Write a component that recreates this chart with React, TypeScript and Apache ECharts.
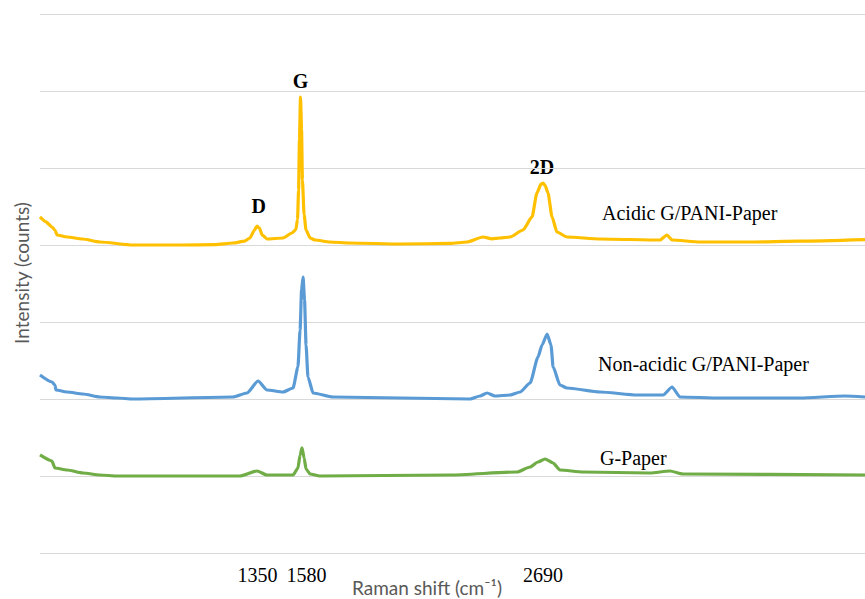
import React, { useEffect, useRef } from "react";
import * as echarts from "echarts";

// Raman shift (cm-1), intensity (offset counts)
const acidicData: number[][] = [
  [330, 4364], [358, 4300], [386, 4234], [400, 4195], [410, 4130], [457, 4104], [530, 4078], [611, 4039],
  [766, 4000], [1000, 4000], [1150, 4005], [1235, 4026], [1290, 4050], [1315, 4091], [1335, 4190],
  [1348, 4247], [1360, 4215], [1372, 4130], [1395, 4078], [1470, 4091], [1512, 4156], [1530, 4200],
  [1538, 4330], [1543, 4714], [1547, 5364], [1552, 5922], [1557, 5494], [1561, 4844], [1569, 4390],
  [1578, 4195], [1597, 4091], [1620, 4065], [1690, 4039], [1784, 4026], [2019, 4013], [2253, 4020],
  [2333, 4039], [2408, 4104], [2450, 4080], [2488, 4091], [2535, 4104], [2596, 4195], [2638, 4364],
  [2661, 4675], [2680, 4790], [2690, 4805], [2700, 4770], [2713, 4675], [2732, 4364], [2755, 4169],
  [2802, 4104], [2957, 4078], [3238, 4065], [3271, 4130], [3295, 4065], [3426, 4039], [3661, 4039],
  [3895, 4050], [4200, 4070],
];

const nonAcidicData: number[][] = [
  [330, 2312], [386, 2221], [400, 2182], [405, 2117], [457, 2091], [532, 2065], [611, 2026], [691, 2013],
  [766, 2000], [1235, 2026], [1301, 2078], [1353, 2234], [1395, 2117], [1470, 2091], [1517, 2143],
  [1540, 2416], [1550, 2896], [1557, 3416], [1564, 3584], [1571, 3286], [1578, 2701], [1587, 2286],
  [1611, 2078], [1704, 2026], [2347, 2000], [2394, 2039], [2427, 2078], [2464, 2039], [2535, 2052],
  [2582, 2091], [2629, 2208], [2666, 2545], [2685, 2701], [2709, 2844], [2727, 2701], [2737, 2416],
  [2769, 2182], [2802, 2143], [2957, 2091], [3131, 2052], [3253, 2052], [3295, 2156], [3332, 2026],
  [3520, 2013], [3895, 2013], [4106, 2039], [4200, 2026],
];

const gPaperData: number[][] = [
  [330, 1273], [386, 1195], [400, 1104], [457, 1078], [532, 1039], [611, 1013], [691, 1000], [1268, 1000],
  [1348, 1065], [1395, 1013], [1517, 1013], [1540, 1104], [1550, 1273], [1559, 1364], [1569, 1234],
  [1578, 1091], [1597, 1026], [1643, 1000], [2253, 1013], [2568, 1052], [2629, 1117], [2666, 1182],
  [2699, 1221], [2737, 1169], [2769, 1078], [2877, 1052], [3191, 1039], [3285, 1065], [3346, 1026],
  [4200, 1013],
];

const tickValues = [1350, 1580, 2690];
const seriesNames = ["Acidic G/PANI-Paper", "Non-acidic G/PANI-Paper", "G-Paper"];
const peakLabels = ["D", "G", "2D"];

export default function App() {
  const ref = useRef<HTMLDivElement>(null);
  useEffect(() => {
    if (!ref.current) return;
    const chart = echarts.init(ref.current, null, { renderer: "svg" });
    const serif = "'Liberation Serif', 'Times New Roman', serif";
    const sans = "Lato, 'Open Sans', sans-serif";
    const peakStyle = { fontFamily: serif, fontSize: 20, fontWeight: "bold", fill: "#000", align: "center", verticalAlign: "middle" };
    const nameStyle = { fontFamily: serif, fontSize: 20, fill: "#000", align: "left", verticalAlign: "middle" };
    const line = (name: string, data: number[][], color: string) => ({
      name, type: "line", data, showSymbol: false, smooth: 0.2, smoothMonotone: "x",
      lineStyle: { color, width: 3.2 }, itemStyle: { color },
    });
    chart.setOption({
      animation: false,
      backgroundColor: "#fff",
      grid: { left: 40, right: 0, top: 14, bottom: 46 },
      xAxis: {
        type: "value",
        min: 330,
        max: 4200,
        splitLine: { show: false },
        axisLine: { show: false },
        axisTick: { show: false },
        axisLabel: {
          customValues: tickValues,
          formatter: (v: number) => String(v),
          margin: 12,
          fontFamily: serif,
          fontSize: 20,
          color: "#000",
        },
      },
      yAxis: {
        type: "value",
        min: 0,
        max: 7000,
        interval: 1000,
        axisLabel: { show: false },
        axisLine: { show: false },
        axisTick: { show: false },
        splitLine: { lineStyle: { color: "#d9d9d9", width: 1 } },
      },
      series: [
        line(seriesNames[0], acidicData, "#FFC000"),
        line(seriesNames[1], nonAcidicData, "#5B9BD5"),
        line(seriesNames[2], gPaperData, "#70AD47"),
      ],
      graphic: [
        { type: "text", x: 258.7, y: 206, style: { ...peakStyle, text: peakLabels[0] } },
        { type: "text", x: 300.5, y: 81, style: { ...peakStyle, text: peakLabels[1] } },
        { type: "text", x: 542, y: 167, style: { ...peakStyle, text: peakLabels[2] } },
        { type: "text", x: 602, y: 213, style: { ...nameStyle, text: seriesNames[0] } },
        { type: "text", x: 598, y: 363.5, style: { ...nameStyle, text: seriesNames[1] } },
        { type: "text", x: 600, y: 458, style: { ...nameStyle, text: seriesNames[2] } },
        {
          type: "text", x: 427, y: 587,
          style: { text: "Raman shift (cm⁻¹)", fontFamily: sans, fontSize: 19, fill: "#595959", align: "center", verticalAlign: "middle" },
        },
        {
          type: "text", x: 21, y: 273, rotation: Math.PI / 2,
          style: { text: "Intensity (counts)", fontFamily: sans, fontSize: 19, fill: "#595959", align: "center", verticalAlign: "middle" },
        },
      ],
    });
    return () => chart.dispose();
  }, []);
  return <div ref={ref} style={{ position: "absolute", left: 0, top: 0, width: 865, height: 599 }} />;
}
